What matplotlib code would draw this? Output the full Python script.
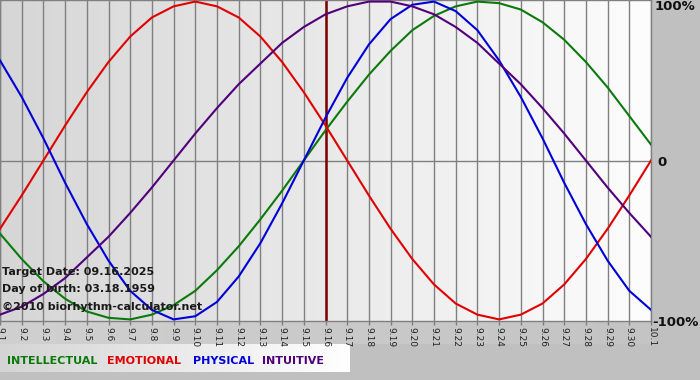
import numpy as np
import matplotlib
matplotlib.use("Agg")
import matplotlib.pyplot as plt

# ---- data (% / 100) ----
day_labels = ["9.1", "9.2", "9.3", "9.4", "9.5", "9.6", "9.7", "9.8", "9.9", "9.10",
              "9.11", "9.12", "9.13", "9.14", "9.15", "9.16", "9.17", "9.18", "9.19", "9.20",
              "9.21", "9.22", "9.23", "9.24", "9.25", "9.26", "9.27", "9.28", "9.29", "9.30", "10.1"]

physical = [0.63, 0.40, 0.14, -0.14, -0.40, -0.63, -0.82, -0.94, -1.00, -0.98,
            -0.89, -0.73, -0.52, -0.27, 0.00, 0.27, 0.52, 0.73, 0.89, 0.98,
            1.00, 0.94, 0.82, 0.63, 0.40, 0.14, -0.14, -0.40, -0.63, -0.82, -0.94]
emotional = [-0.43, -0.22, 0.00, 0.22, 0.43, 0.62, 0.78, 0.90, 0.97, 1.00,
             0.97, 0.90, 0.78, 0.62, 0.43, 0.22, 0.00, -0.22, -0.43, -0.62,
             -0.78, -0.90, -0.97, -1.00, -0.97, -0.90, -0.78, -0.62, -0.43, -0.22, 0.00]
intellectual = [-0.46, -0.62, -0.76, -0.87, -0.95, -0.99, -1.00, -0.97, -0.91, -0.82,
                -0.69, -0.54, -0.37, -0.19, 0.00, 0.19, 0.37, 0.54, 0.69, 0.82,
                0.91, 0.97, 1.00, 0.99, 0.95, 0.87, 0.76, 0.62, 0.46, 0.28, 0.10]
intuitive = [-0.97, -0.92, -0.84, -0.74, -0.61, -0.48, -0.33, -0.17, 0.00, 0.17,
             0.33, 0.48, 0.61, 0.74, 0.84, 0.92, 0.97, 1.00, 1.00, 0.97,
             0.92, 0.84, 0.74, 0.61, 0.48, 0.33, 0.17, 0.00, -0.17, -0.33, -0.48]

target_label = "9.16"
series_names = ["INTELLECTUAL", "EMOTIONAL", "PHYSICAL", "INTUITIVE"]
y_labels = ["100%", "0", "-100%"]
info_lines = ["Target Date: 09.16.2025", "Day of birth: 03.18.1959", "\u00a92010 biorhythm-calculator.net"]

# ---- colours ----
c_int = "#0a7a0a"
c_emo = "#e00000"
c_phy = "#0000d8"
c_itu = "#50007a"
grid_c = "#808080"

W, H = 700, 380
fig = plt.figure(figsize=(7, 3.8), dpi=100, facecolor="#c0c0c0")

# background axes in pixel coordinates
bg = fig.add_axes([0, 0, 1, 1], zorder=-10)
bg.set_xlim(0, W)
bg.set_ylim(H, 0)
bg.axis("off")
# tick-label strip
g = np.linspace(0, 1, 256)[None, :]
bg.imshow(g, extent=(0, 651, 344, 321), cmap=matplotlib.colors.LinearSegmentedColormap.from_list(
    "t", ["#d0d0d0", "#c4c4c4"]), aspect="auto", zorder=0)
# legend strip
bg.imshow(g, extent=(0, 350, 372, 344), cmap=matplotlib.colors.LinearSegmentedColormap.from_list(
    "l", ["#d4d4d4", "#ffffff"]), aspect="auto", zorder=0)

# main plot axes
x = np.arange(len(day_labels))
ax = fig.add_axes([0, 1 - 321 / H, 651 / W, 321 / H], zorder=1)
ax.patch.set_alpha(0)
ax.set_xlim(0, len(day_labels) - 1)
ax.set_ylim(-1.01, 1.01)
ax.imshow(g, extent=(0, len(day_labels) - 1, -1.01, 1.01),
          cmap=matplotlib.colors.LinearSegmentedColormap.from_list("p", ["#d6d6d6", "#fdfdfd"]),
          aspect="auto", zorder=0)

for xi in x:
    ax.axvline(xi, color=grid_c, lw=1.0, zorder=1)
ax.axhline(0, color=grid_c, lw=1.0, zorder=1)
ax.axvline(day_labels.index(target_label), color="#7a0000", lw=1.8, zorder=2)

ax.plot(x, intellectual, color=c_int, lw=1.5, zorder=3)
ax.plot(x, emotional, color=c_emo, lw=1.5, zorder=3)
ax.plot(x, physical, color=c_phy, lw=1.5, zorder=3)
ax.plot(x, intuitive, color=c_itu, lw=1.5, zorder=3)

ax.set_xticks(x)
ax.set_xticklabels(day_labels, rotation=-90, fontsize=6.5, color="#222222")
ax.tick_params(axis="x", length=3, width=1, color=grid_c, pad=1)
ax.set_yticks([])
for s in ax.spines.values():
    s.set_color(grid_c)
    s.set_linewidth(1.0)

tr = bg.transData
# right-hand labels
fig.text(655, 7, y_labels[0], transform=tr, fontsize=9.5, fontweight="bold",
         color="#111111", va="center", ha="left", zorder=5)
fig.text(657, 162, y_labels[1], transform=tr, fontsize=9.5, fontweight="bold",
         color="#111111", va="center", ha="left", zorder=5)
fig.text(652, 322, y_labels[2], transform=tr, fontsize=9.5, fontweight="bold",
         color="#111111", va="center", ha="left", zorder=5)

# info texts
for txt, yy in zip(info_lines, [272, 289, 307]):
    fig.text(2, yy, txt, transform=tr, fontsize=8, fontweight="bold",
             color="#1a1a1a", va="center", ha="left", zorder=5)

# legend words
for name, col, xx in zip(series_names, [c_int, c_emo, c_phy, c_itu], [7, 107, 193, 262]):
    fig.text(xx, 361, name, transform=tr, fontsize=8, fontweight="bold",
             color=col, va="center", ha="left", zorder=5)

fig.savefig("out.png", dpi=100, facecolor=fig.get_facecolor())
